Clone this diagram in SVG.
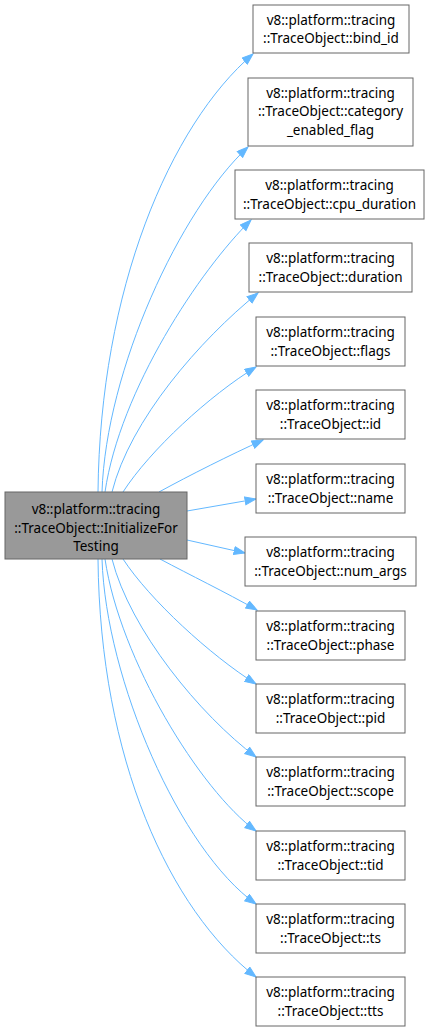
<svg xmlns="http://www.w3.org/2000/svg" width="431" height="1031" viewBox="0 0 431 1031">
<style>
.n rect{fill:#fff;stroke:#666;stroke-width:1}
.m rect{fill:#999;stroke:#666;stroke-width:1}
text{font-family:"Noto Sans","Open Sans",sans-serif;font-size:13.5px;fill:#000;text-anchor:middle}
.e path{fill:none;stroke:#63b8ff;stroke-width:1;marker-end:url(#ah)}
</style>
<defs>
<marker id="ah" markerUnits="userSpaceOnUse" markerWidth="13" markerHeight="10" refX="11.5" refY="4.5" orient="auto">
<path d="M0.5,0.5 L11.5,4.5 L0.5,8.5 z" fill="#63b8ff" stroke="#63b8ff"/>
</marker>
</defs>
<g id="edges" class="e">
<path d="M98,492 C100,290 170,125 253,54"/>
<path d="M102,492 C106,370 180,210 248,147"/>
<path d="M105,492 C120,390 200,270 251,220"/>
<path d="M112,492 C130,420 200,340 258,293"/>
<path d="M123,492 C150,450 210,395 256,367"/>
<path d="M159,492 C190,475 230,455 263,440"/>
<path d="M187,511 L256,499"/>
<path d="M187,540 L245,553"/>
<path d="M160,559 C190,575 225,592 257,610"/>
<path d="M123,559 C150,600 210,655 256,684"/>
<path d="M112,559 C130,630 200,715 256,757"/>
<path d="M105,559 C120,660 200,790 256,831"/>
<path d="M102,559 C106,680 180,850 256,904"/>
<path d="M98,559 C100,760 170,910 256,977"/>
</g>
<g id="main" class="m"><rect x="5" y="492" width="182" height="67"/>
<text x="96" y="514">v8::platform::tracing</text><text x="96" y="532.5">::TraceObject::InitializeFor</text><text x="96" y="551">Testing</text></g>
<g id="n1" class="n"><rect x="253" y="5" width="156" height="48"/><text x="331" y="24.5">v8::platform::tracing</text><text x="331" y="43">::TraceObject::bind_id</text></g>
<g id="n2" class="n"><rect x="248" y="78" width="165" height="68"/><text x="330.5" y="97.5">v8::platform::tracing</text><text x="330.5" y="116">::TraceObject::category</text><text x="330.5" y="134.5">_enabled_flag</text></g>
<g id="n3" class="n"><rect x="235" y="170" width="189" height="49"/><text x="329.5" y="190">v8::platform::tracing</text><text x="329.5" y="208.5">::TraceObject::cpu_duration</text></g>
<g id="n4" class="n"><rect x="249" y="243" width="163" height="49"/><text x="330.5" y="263">v8::platform::tracing</text><text x="330.5" y="281.5">::TraceObject::duration</text></g>
<g id="n5" class="n"><rect x="256" y="317" width="149" height="49"/><text x="330.5" y="337">v8::platform::tracing</text><text x="330.5" y="355.5">::TraceObject::flags</text></g>
<g id="n6" class="n"><rect x="256" y="390" width="149" height="49"/><text x="330.5" y="410">v8::platform::tracing</text><text x="330.5" y="428.5">::TraceObject::id</text></g>
<g id="n7" class="n"><rect x="256" y="464" width="149" height="49"/><text x="330.5" y="484">v8::platform::tracing</text><text x="330.5" y="502.5">::TraceObject::name</text></g>
<g id="n8" class="n"><rect x="245" y="537" width="171" height="49"/><text x="330.5" y="557">v8::platform::tracing</text><text x="330.5" y="575.5">::TraceObject::num_args</text></g>
<g id="n9" class="n"><rect x="256" y="611" width="149" height="49"/><text x="330.5" y="631">v8::platform::tracing</text><text x="330.5" y="649.5">::TraceObject::phase</text></g>
<g id="n10" class="n"><rect x="256" y="684" width="149" height="49"/><text x="330.5" y="704">v8::platform::tracing</text><text x="330.5" y="722.5">::TraceObject::pid</text></g>
<g id="n11" class="n"><rect x="256" y="757" width="149" height="49"/><text x="330.5" y="777">v8::platform::tracing</text><text x="330.5" y="795.5">::TraceObject::scope</text></g>
<g id="n12" class="n"><rect x="256" y="831" width="149" height="49"/><text x="330.5" y="851">v8::platform::tracing</text><text x="330.5" y="869.5">::TraceObject::tid</text></g>
<g id="n13" class="n"><rect x="256" y="904" width="149" height="49"/><text x="330.5" y="924">v8::platform::tracing</text><text x="330.5" y="942.5">::TraceObject::ts</text></g>
<g id="n14" class="n"><rect x="256" y="977" width="149" height="49"/><text x="330.5" y="997">v8::platform::tracing</text><text x="330.5" y="1015.5">::TraceObject::tts</text></g>
</svg>
